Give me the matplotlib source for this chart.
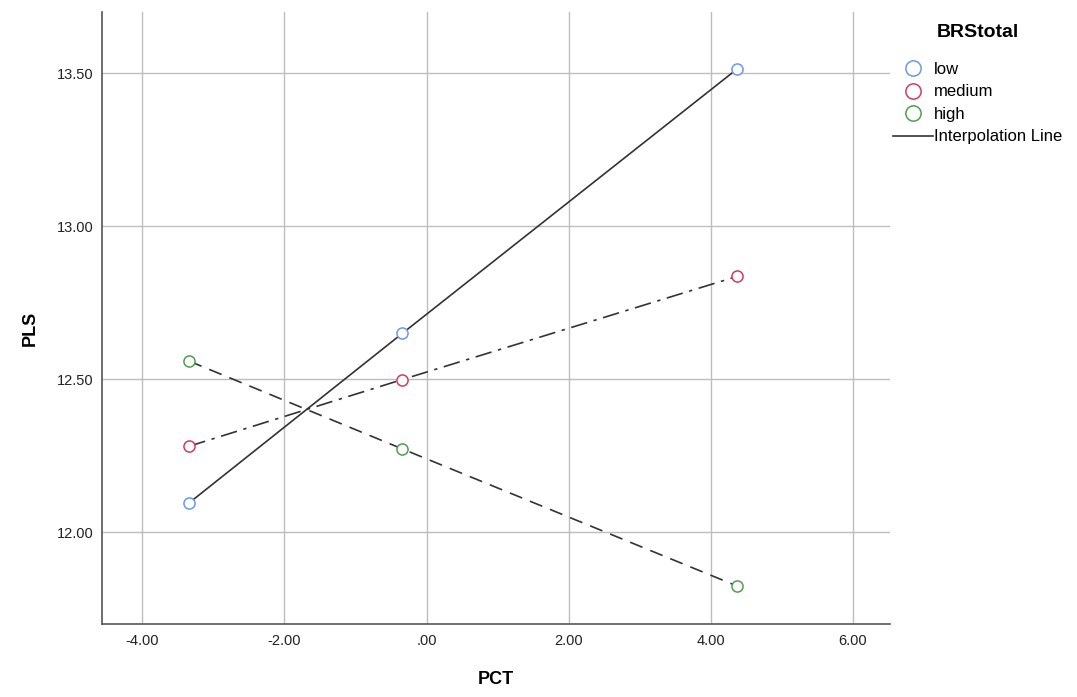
import matplotlib
matplotlib.use("Agg")
import matplotlib.pyplot as plt
from matplotlib.lines import Line2D

plt.rcParams['font.family'] = ['Liberation Sans', 'DejaVu Sans']

pct = [-3.34, -0.34, 4.37]
groups = ["low", "medium", "high"]
pls_low = [12.096, 12.65, 13.514]
pls_medium = [12.281, 12.499, 12.836]
pls_high = [12.559, 12.272, 11.824]
xticks = [-4, -2, 0, 2, 4, 6]
xticklabels = ["-4.00", "-2.00", ".00", "2.00", "4.00", "6.00"]
yticks = [12.0, 12.5, 13.0, 13.5]
yticklabels = ["12.00", "12.50", "13.00", "13.50"]

colors = ["#6a9ae0", "#d33a62", "#4f9e4f"]
styles = ["-", (0, (10, 4, 2, 4)), (0, (8, 5))]
series = [pls_low, pls_medium, pls_high]

fig = plt.figure(figsize=(10.77, 6.97), dpi=100)
ax = fig.add_axes([102/1077, 73/697, (890-102)/1077, (624-12)/697])

for vals, c, ls in zip(series, colors, styles):
    ax.plot(pct, vals, color="#333333", lw=1.2, linestyle=ls, zorder=2)
    ax.plot(pct, vals, linestyle="none", marker="o", ms=8, mfc="white",
            mec=c, mew=1.1, zorder=3)

ax.set_xlim(-4.567, 6.52)
ax.set_ylim(11.70, 13.70)
ax.set_xticks(xticks)
ax.set_xticklabels(xticklabels)
ax.set_yticks(yticks)
ax.set_yticklabels(yticklabels)
ax.grid(True, color="#bdbdbd", lw=1.0, zorder=0)
ax.set_axisbelow(True)
for s in ["top", "right"]:
    ax.spines[s].set_visible(False)
for s in ["left", "bottom"]:
    ax.spines[s].set_color("#555555")
    ax.spines[s].set_linewidth(1.2)
ax.tick_params(axis="x", length=0, labelsize=10.5, colors="#222222", pad=7)
ax.tick_params(axis="y", length=0, labelsize=10.5, colors="#222222", pad=6)
ax.set_xlabel("PCT", fontsize=13, fontweight="bold", va="center")
ax.set_ylabel("PLS", fontsize=13, fontweight="bold", va="center")
ax.xaxis.set_label_coords((496 - 102) / 788, -(680 - 624) / 612)
ax.yaxis.set_label_coords(-(102 - 30) / 788, (624 - 328) / 612)

handles = [Line2D([], [], linestyle="none", marker="o", ms=11, mfc="white",
                  mec=c, mew=1.1) for c in colors]
handles.append(Line2D([], [], color="#333333", lw=1.2))
labels = groups + ["Interpolation Line"]
leg = fig.legend(handles, labels, loc="upper left", bbox_to_anchor=(893/1077, 1 - 24/697),
                 frameon=False, fontsize=12, title="BRStotal",
                 title_fontproperties={"weight": "bold", "size": 14},
                 handlelength=2.4, handletextpad=0.05, labelspacing=0.45,
                 borderaxespad=0, borderpad=0)
leg._legend_box.align = "center"
leg._legend_box.sep = 15

fig.savefig("out.png", dpi=100)
